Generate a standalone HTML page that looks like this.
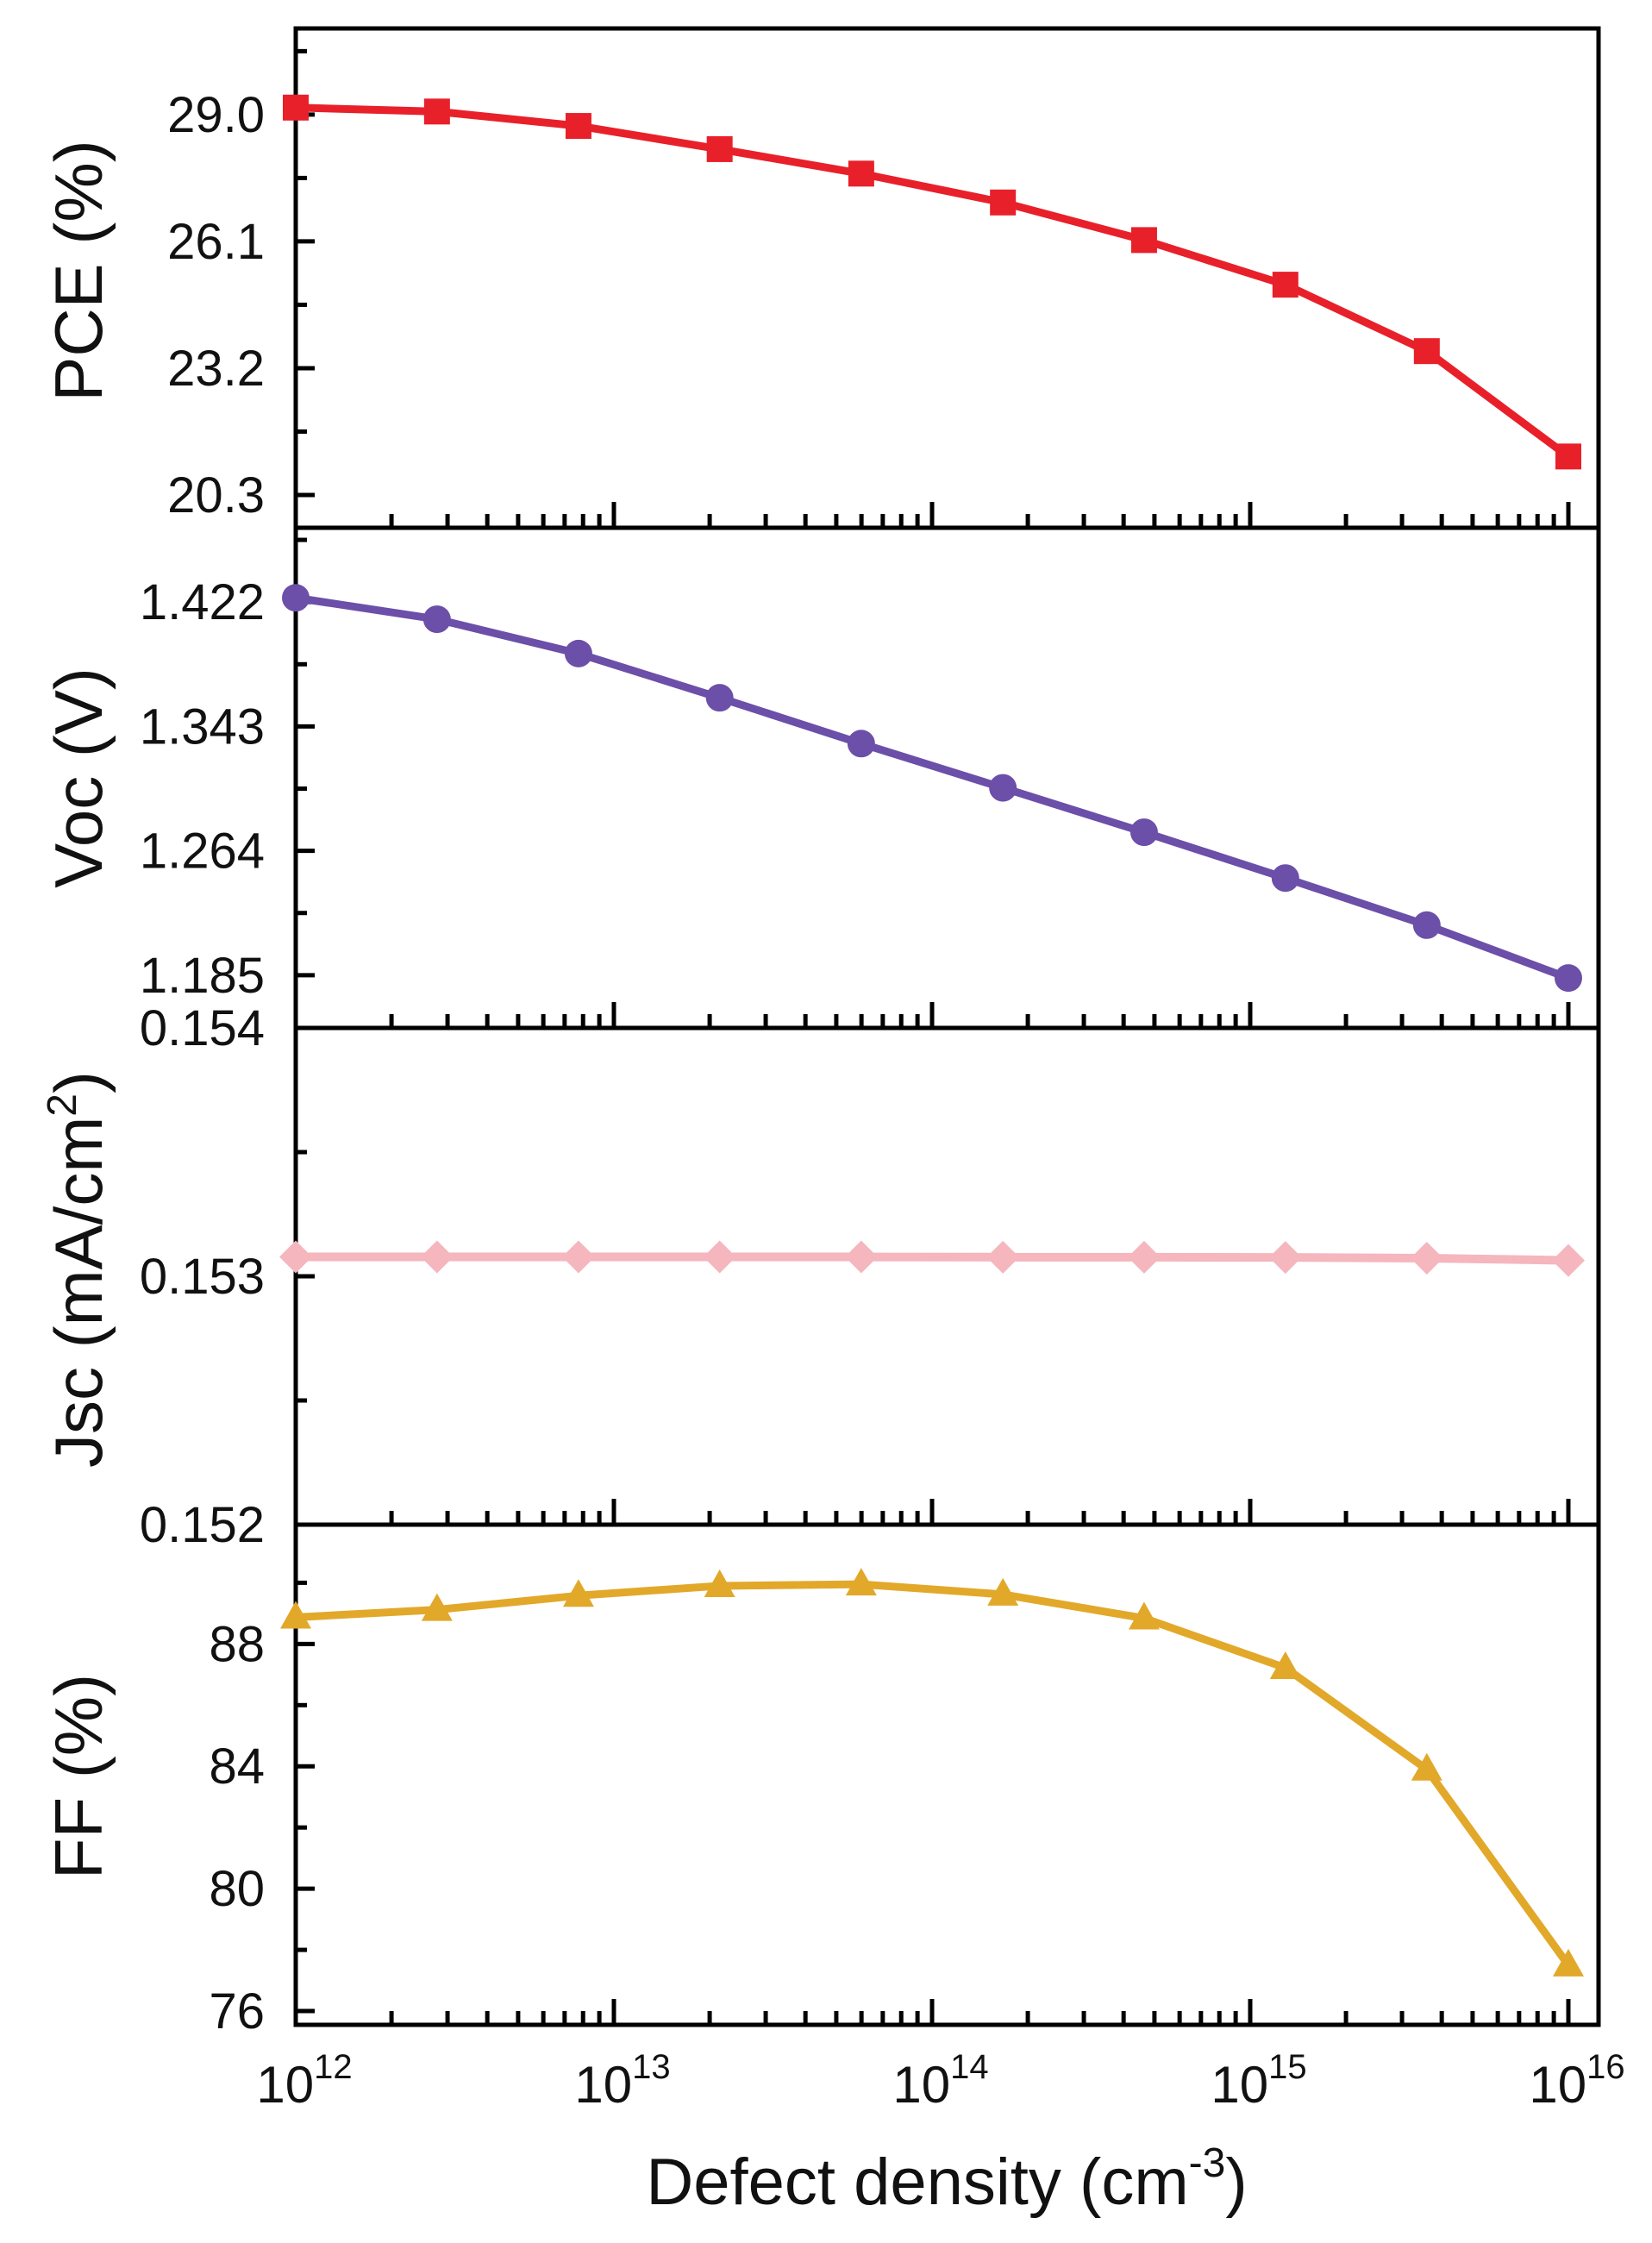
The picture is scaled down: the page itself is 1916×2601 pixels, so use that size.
<!DOCTYPE html>
<html><head><meta charset="utf-8"><style>
html,body{margin:0;padding:0;background:#fff;}
svg{display:block;font-family:"Liberation Sans",Arial,sans-serif;}
</style></head><body>
<svg id="chart" width="1916" height="2601" viewBox="0 0 1916 2601" xmlns="http://www.w3.org/2000/svg"></svg>
<script>
const defectDensity = [1e12, 2.78e12, 7.74e12, 2.15e13, 5.99e13, 1.67e14, 4.64e14, 1.29e15, 3.59e15, 1e16];
const pceValues = [29.16, 29.07, 28.74, 28.21, 27.65, 26.99, 26.13, 25.11, 23.59, 21.18];
const vocValues = [1.4247, 1.4111, 1.3893, 1.3612, 1.3321, 1.3040, 1.2758, 1.2467, 1.2168, 1.1832];
const jscValues = [0.153078, 0.153078, 0.153078, 0.153078, 0.153078, 0.153077, 0.153077, 0.153076, 0.153073, 0.153064];
const ffValues = [88.87, 89.12, 89.58, 89.9, 89.95, 89.62, 88.84, 87.22, 83.9, 77.5];
const pceTicks = ["20.3", "23.2", "26.1", "29.0"];
const vocTicks = ["1.185", "1.264", "1.343", "1.422"];
const jscTicks = ["0.152", "0.153", "0.154"];
const ffTicks = ["76", "80", "84", "88"];
const xTickExps = ["12", "13", "14", "15", "16"];

const NS = "http://www.w3.org/2000/svg";
const svg = document.getElementById("chart");
const L = 343, R = 1854;
const xMinLog = 12, xMaxLog = 16, X16 = 1819;
function xScale(v){ return L + (Math.log10(v) - xMinLog) / (xMaxLog - xMinLog) * (X16 - L); }
function mk(tag, attrs, parent){ const e = document.createElementNS(NS, tag); for (const k in attrs) e.setAttribute(k, attrs[k]); (parent||svg).appendChild(e); return e; }

const panels = [
 {name:"pce", top:33, bottom:612, ymin:19.55, ymax:30.97, vals:pceValues, ticks:pceTicks, color:"#e8202a", marker:"square", title:"PCE (%)", tcy:314, lw:9},
 {name:"voc", top:612, bottom:1192, ymin:1.1515, ymax:1.4692, vals:vocValues, ticks:vocTicks, color:"#6b4fa8", marker:"circle", title:"Voc (V)", tcy:902, lw:9},
 {name:"jsc", top:1192, bottom:1768, ymin:0.152, ymax:0.154, vals:jscValues, ticks:jscTicks, color:"#f5b6be", marker:"diamond", title:"Jsc (mA/cm<sup>2</sup>)", tcy:1472, lw:10},
 {name:"ff", top:1768, bottom:2348, ymin:75.55, ymax:91.9, vals:ffValues, ticks:ffTicks, color:"#e2a82a", marker:"triangle", title:"FF (%)", tcy:2060, lw:9}
];

panels.forEach(p => {
  const g = mk("g", {});
  
  
  const y = v => p.bottom - (v - p.ymin) / (p.ymax - p.ymin) * (p.bottom - p.top);
  const fr = mk("rect", {x:L, y:p.top, width:R-L, height:p.bottom-p.top, fill:"none", stroke:"#000", "stroke-width":5}, g);
  
  
  const tv = p.ticks.map(Number);
  const step = tv[1] - tv[0];
  for (let i = 0; i < tv.length; i++) {
    const ty = y(tv[i]);
    mk("line", {x1:L, x2:L+22, y1:ty, y2:ty, stroke:"#000", "stroke-width":5}, g);
    const t = mk("text", {x:307, y:ty+20, "text-anchor":"end", "font-size":58, fill:"#111"}, g);
    t.textContent = p.ticks[i];
    
    
  }
  for (let v = tv[0] - step/2; v < p.ymax; v += step) {
    if (v < p.ymin) continue;
    const ty = y(v);
    mk("line", {x1:L, x2:L+13, y1:ty, y2:ty, stroke:"#000", "stroke-width":5}, g);
  }
  for (let e = 12; e <= 16; e++) {
    const mx = xScale(Math.pow(10, e));
    if (e > 12) mk("line", {x1:mx, x2:mx, y1:p.bottom, y2:p.bottom-30, stroke:"#000", "stroke-width":5}, g);
    if (e < 16) for (let m = 2; m <= 9; m++) {
      const nx = xScale(m * Math.pow(10, e));
      mk("line", {x1:nx, x2:nx, y1:p.bottom, y2:p.bottom-16, stroke:"#000", "stroke-width":5}, g);
    }
  }
  const tt = mk("text", {x:0, y:0, transform:`translate(118 ${p.tcy}) rotate(-90)`, "text-anchor":"middle", "font-size":78, fill:"#111"}, g);
  if (p.name === "jsc") {
    tt.textContent = "Jsc (mA/cm";
    const s = mk("tspan", {dy:-30, "font-size":48}, tt); s.textContent = "2";
    const s2 = mk("tspan", {dy:30}, tt); s2.textContent = ")";
  } else tt.textContent = p.title;
  
  
  const pts = defectDensity.map((d, i) => xScale(d) + "," + y(p.vals[i])).join(" ");
  const pl = mk("polyline", {points:pts, fill:"none", stroke:p.color, "stroke-width":p.lw, "stroke-linejoin":"round"}, g);
  
  
  defectDensity.forEach((d, i) => {
    const cx = xScale(d), cy = y(p.vals[i]);
    let m;
    if (p.marker === "square") m = mk("rect", {x:cx-15, y:cy-15, width:30, height:30, fill:p.color}, g);
    else if (p.marker === "circle") m = mk("circle", {cx:cx, cy:cy, r:16, fill:p.color}, g);
    else if (p.marker === "diamond") m = mk("polygon", {points:`${cx},${cy-19} ${cx+19},${cy} ${cx},${cy+19} ${cx-19},${cy}`, fill:p.color}, g);
    else m = mk("polygon", {points:`${cx},${cy-19} ${cx+18},${cy+13} ${cx-18},${cy+13}`, fill:p.color}, g);
    
    
  });
});

xTickExps.forEach(e => {
  const tx = xScale(Math.pow(10, Number(e)));
  const t = mk("text", {x:tx+10, y:2438, "text-anchor":"middle", "font-size":60, fill:"#111"});
  t.textContent = "10";
  const s = mk("tspan", {dy:-28, "font-size":40}, t); s.textContent = e;
  
  
});
const xt = mk("text", {x:1098, y:2556, "text-anchor":"middle", "font-size":76, fill:"#111"});
xt.textContent = "Defect density (cm";
const xs = mk("tspan", {dy:-32, "font-size":48}, xt); xs.textContent = "-3";
const xs2 = mk("tspan", {dy:32}, xt); xs2.textContent = ")";


</script>
</body></html>
